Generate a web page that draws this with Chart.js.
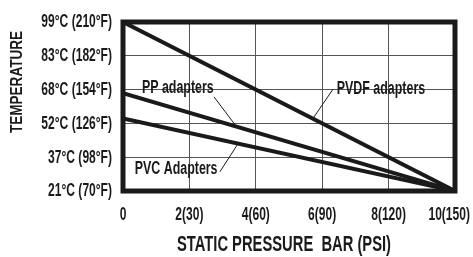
<!DOCTYPE html>
<html>
<head>
<meta charset="utf-8">
<script src="https://cdn.jsdelivr.net/npm/chart.js@4"></script>
<style>
  html, body { margin: 0; padding: 0; background: #fff; }
  #wrap { width: 473px; height: 257px; }
</style>
</head>
<body>
<div id="wrap"><canvas id="myChart" width="473" height="257"></canvas></div>
<script>
// pressure in bar, temperature in °F
var pressures = [0, 10];
var pvdf = [210, 70];
var pp = [151, 70];
var pvc = [130, 70];

var xTicks = ['0', '2(30)', '4(60)', '6(90)', '8(120)', '10(150)'];
var yTicks = ['21°C (70°F)', '37°C (98°F)', '52°C (126°F)', '68°C (154°F)', '83°C (182°F)', '99°C (210°F)'];

// callout labels: text, label position, leader start, leader end (data units)
var callouts = [
  { text: 'PP adapters', at: [1.65, 155.5], from: [2.74, 148], to: [3.4, 124] },
  { text: 'PVDF adapters', at: [7.77, 154.5], from: [6.33, 154.5], to: [5.72, 130] },
  { text: 'PVC Adapters', at: [1.6, 88.2], from: [2.92, 86], to: [3.46, 109] }
];

var ink = '#1a1a1a';
var face = '"Liberation Sans", Arial, sans-serif';

function pts(ys) {
  return pressures.map(function (p, i) { return { x: p, y: ys[i] }; });
}

// no condensed font installed: squeeze Liberation Sans Bold sideways
function narrowText(c, txt, x, y, size, sx, align) {
  c.save();
  c.font = 'bold ' + size + 'px ' + face;
  c.textAlign = align || 'center';
  c.textBaseline = 'middle';
  c.translate(x, y);
  c.scale(sx, 1);
  c.fillText(txt, 0, 0);
  c.restore();
}

function narrowWidth(c, txt, size, sx) {
  c.save();
  c.font = 'bold ' + size + 'px ' + face;
  var w = c.measureText(txt).width * sx;
  c.restore();
  return w;
}

var extras = {
  id: 'extras',
  afterDatasetsDraw: function (chart) {
    var c = chart.ctx, a = chart.chartArea;
    var xs = chart.scales.x, ys = chart.scales.y;
    c.save();
    // frame
    c.strokeStyle = ink;
    c.lineWidth = 5;
    c.strokeRect(a.left, a.top, a.right - a.left, a.bottom - a.top);
    c.fillStyle = ink;
    // tick labels
    xs.ticks.forEach(function (t, i) {
      var w = narrowWidth(c, xTicks[i], 18, 0.67);
      var px = Math.min(xs.getPixelForValue(t.value), chart.width - 3 - w / 2);
      narrowText(c, xTicks[i], px, 215, 18, 0.67);
    });
    ys.ticks.forEach(function (t, i) {
      narrowText(c, yTicks[i], a.left - 11, ys.getPixelForValue(t.value) + 0.5, 18, 0.67, 'right');
    });
    // callouts
    c.strokeStyle = ink;
    c.lineWidth = 1;
    callouts.forEach(function (o) {
      narrowText(c, o.text, xs.getPixelForValue(o.at[0]), ys.getPixelForValue(o.at[1]), 18, 0.69);
      c.beginPath();
      c.moveTo(xs.getPixelForValue(o.from[0]), ys.getPixelForValue(o.from[1]));
      c.lineTo(xs.getPixelForValue(o.to[0]), ys.getPixelForValue(o.to[1]));
      c.stroke();
    });
    // axis titles
    narrowText(c, 'STATIC PRESSURE  BAR (PSI)', 284, 245, 22, 0.67);
    c.translate(17, 82);
    c.rotate(-Math.PI / 2);
    narrowText(c, 'TEMPERATURE', 0, 0, 16.5, 0.82);
    c.restore();
  }
};

var ctx = document.getElementById('myChart').getContext('2d');
var myChart = new Chart(ctx, {
  type: 'scatter',
  data: {
    datasets: [
      { label: 'PVDF', data: pts(pvdf) },
      { label: 'PP', data: pts(pp) },
      { label: 'PVC', data: pts(pvc) }
    ]
  },
  options: {
    responsive: false,
    animation: false,
    layout: { padding: { top: 22, right: 18, left: 0, bottom: 0 } },
    elements: {
      line: { borderColor: ink, borderWidth: 4 },
      point: { radius: 0 }
    },
    datasets: { scatter: { showLine: true } },
    plugins: { legend: { display: false }, tooltip: { enabled: false } },
    scales: {
      x: {
        type: 'linear', min: 0, max: 10,
        afterFit: function (s) { s.height = 66; },
        grid: { color: '#555', lineWidth: 1, drawTicks: false },
        border: { display: false },
        ticks: { stepSize: 2, display: false }
      },
      y: {
        min: 70, max: 210,
        afterFit: function (s) { s.width = 123; },
        grid: { color: '#555', lineWidth: 1, drawTicks: false },
        border: { display: false },
        ticks: { stepSize: 28, display: false }
      }
    }
  },
  plugins: [extras]
});
</script>
</body>
</html>
